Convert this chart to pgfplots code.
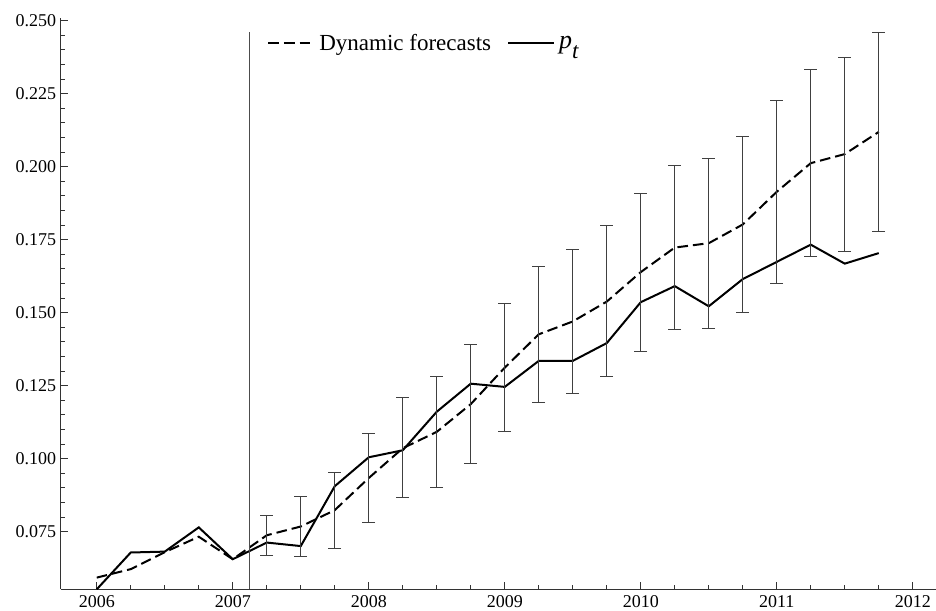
\documentclass[border=0pt]{standalone}
\usepackage{fontspec}
\setmainfont{Liberation Serif}
\usepackage{pgfplots}
\usepackage{pgfplotstable}
\pgfplotsset{compat=1.18}

% Dynamic forecast path (fitted values before the cut-off, forecasts after)
\pgfplotstableread{
t f
2006.00 0.0593
2006.25 0.0622
2006.50 0.0680
2006.75 0.0733
2007.00 0.0656
2007.25 0.0738
2007.50 0.0768
2007.75 0.0824
2008.00 0.0934
2008.25 0.1036
2008.50 0.1092
2008.75 0.1187
2009.00 0.1312
2009.25 0.1426
2009.50 0.1470
2009.75 0.1538
2010.00 0.1639
2010.25 0.1723
2010.50 0.1738
2010.75 0.1802
2011.00 0.1914
2011.25 0.2012
2011.50 0.2043
2011.75 0.2119
}\forecast

% Forecast intervals: centre, lower and upper bound
\pgfplotstableread{
t f lo hi
2007.25 0.0738 0.0668 0.0807
2007.50 0.0768 0.0664 0.0872
2007.75 0.0824 0.0694 0.0953
2008.00 0.0934 0.0781 0.1087
2008.25 0.1036 0.0868 0.1211
2008.50 0.1092 0.0903 0.1280
2008.75 0.1187 0.0983 0.1391
2009.00 0.1312 0.1092 0.1531
2009.25 0.1426 0.1192 0.1659
2009.50 0.1470 0.1224 0.1716
2009.75 0.1538 0.1280 0.1797
2010.00 0.1639 0.1368 0.1909
2010.25 0.1723 0.1442 0.2004
2010.50 0.1738 0.1446 0.2029
2010.75 0.1802 0.1499 0.2105
2011.00 0.1914 0.1601 0.2226
2011.25 0.2012 0.1691 0.2334
2011.50 0.2043 0.1711 0.2374
2011.75 0.2119 0.1778 0.2460
}\bands

% Observed series p_t
\pgfplotstableread{
t p
2006.00 0.0553
2006.25 0.0679
2006.50 0.0682
2006.75 0.0765
2007.00 0.0656
2007.25 0.0713
2007.50 0.0701
2007.75 0.0906
2008.00 0.1005
2008.25 0.1029
2008.50 0.1161
2008.75 0.1257
2009.00 0.1246
2009.25 0.1335
2009.50 0.1335
2009.75 0.1396
2010.00 0.1536
2010.25 0.1591
2010.50 0.1522
2010.75 0.1615
2011.00 0.1674
2011.25 0.1733
2011.50 0.1668
2011.75 0.1704
}\observed

\begin{document}
\begin{tikzpicture}
\useasboundingbox (-30.5pt,-10.35pt) rectangle (437.5pt,294.65pt);
\begin{axis}[
  scale only axis,
  width=437.5pt, height=285.5pt,
  xmin=2005.737, xmax=2012.171,
  ymin=0.0553, ymax=0.2508,
  axis lines*=left,
  axis line style={black!80, line width=0.5pt},
  xtick={2006,2007,2008,2009,2010,2011,2012},
  minor x tick num=3,
  ytick={0.075,0.100,0.125,0.150,0.175,0.200,0.225,0.250},
  minor y tick num=4,
  tick align=inside,
  major tick length=3.5pt, minor tick length=2pt,
  every tick/.style={black!80, line width=0.5pt},
  tick label style={font=\fontsize{9}{10}\selectfont, text=black, inner sep=0pt},
  /pgf/number format/assume math mode=true,
  yticklabel style={xshift=-2.2pt, /pgf/number format/fixed, /pgf/number format/fixed zerofill, /pgf/number format/precision=3},
  xticklabel style={yshift=-2.8pt, /pgf/number format/1000 sep={}},
  clip=false,
  legend columns=2,
  legend style={draw=none, fill=none, at={(0.2354,0.956)}, anchor=west,
    inner sep=0pt, font=\fontsize{11.5}{13}\selectfont,
    /tikz/every even column/.append style={column sep=6pt}},
  legend image code/.code={\draw[#1] (0pt,0pt) -- (23pt,0pt);},
]
\addplot[black, line width=1pt, dash pattern=on 5.3pt off 2.5pt] table[x=t, y=f] {\forecast};
\addlegendentry{Dynamic forecasts}
\addplot[black, line width=1pt] table[x=t, y=p] {\observed};
\addlegendentry{\fontsize{13}{14}\selectfont\textit{p}\raisebox{-5pt}[0pt][0pt]{\fontsize{11.5}{13}\selectfont\textit{t}}}
\addplot[draw=none, forget plot,
  error bars/.cd, y dir=both, y explicit,
  error bar style={draw=black!75, solid, line width=0.5pt},
  error mark options={rotate=90, mark size=3.2pt, draw=black!75, solid, line width=0.5pt}]
  table[x=t, y=f, y error plus expr=\thisrow{hi}-\thisrow{f}, y error minus expr=\thisrow{f}-\thisrow{lo}] {\bands};
\addplot[black!70, line width=0.5pt, forget plot] coordinates {(2007.125,0.0553) (2007.125,0.2460)};
\end{axis}
\end{tikzpicture}
\end{document}
